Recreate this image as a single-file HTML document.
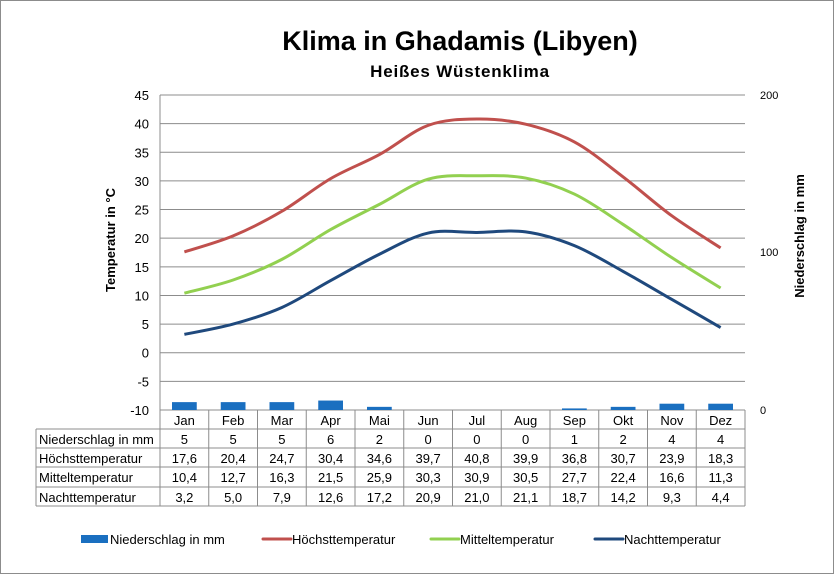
<!DOCTYPE html>
<html><head><meta charset="utf-8"><style>
html,body{margin:0;padding:0;background:#fff}
svg{display:block;font-family:"Liberation Sans",Arial,sans-serif}
</style></head><body>
<svg id="s" width="836" height="575" xmlns="http://www.w3.org/2000/svg">
<rect x="0.5" y="0.5" width="833" height="573" fill="#fff" stroke="#8c8c8c"/>
<text x="460" y="50" text-anchor="middle" font-size="27" font-weight="bold">Klima in Ghadamis (Libyen)</text>
<text x="460" y="77" text-anchor="middle" font-size="17" font-weight="bold" letter-spacing="0.8">Heißes Wüstenklima</text>
<text transform="translate(115,240) rotate(-90)" text-anchor="middle" font-size="13" font-weight="bold">Temperatur in °C</text>
<text transform="translate(804,236) rotate(-90)" text-anchor="middle" font-size="13" font-weight="bold">Niederschlag in mm</text>
<g id="g"></g>
</svg>
<script>
var g=document.getElementById('g'),h='';
var L=160,R=745,T=95,B=410,cw=(R-L)/12;
function ty(v){return B-(v+10)*(B-T)/55}
for(var v=-10;v<=45;v+=5){var y=ty(v);h+='<line x1="'+L+'" x2="'+R+'" y1="'+y+'" y2="'+y+'" stroke="#8c8c8c"/>';
h+='<text x="149" y="'+(y+5)+'" text-anchor="end" font-size="13">'+v+'</text>';}
h+='<line x1="'+L+'" x2="'+L+'" y1="'+T+'" y2="'+B+'" stroke="#8c8c8c"/>';
[[200,95],[100,252],[0,410]].forEach(function(a){h+='<text x="760" y="'+(a[1]+4)+'" font-size="11">'+a[0]+'</text>'});
var m=['Jan','Feb','Mar','Apr','Mai','Jun','Jul','Aug','Sep','Okt','Nov','Dez'];
var p=[5,5,5,6,2,0,0,0,1,2,4,4];
var hi=[17.6,20.4,24.7,30.4,34.6,39.7,40.8,39.9,36.8,30.7,23.9,18.3];
var mi=[10.4,12.7,16.3,21.5,25.9,30.3,30.9,30.5,27.7,22.4,16.6,11.3];
var lo=[3.2,5.0,7.9,12.6,17.2,20.9,21.0,21.1,18.7,14.2,9.3,4.4];
for(var i=0;i<12;i++){var hh=p[i]*(B-T)/200;if(hh>0)h+='<rect x="'+(L+i*cw+12)+'" y="'+(B-hh)+'" width="'+(cw-24)+'" height="'+hh+'" fill="#1a6fc0"/>';}
function path(d,c){var pts=d.map(function(v,i){return[L+(i+.5)*cw,ty(v)]});var s='M'+pts[0];
for(var i=0;i<11;i++){var p0=pts[Math.max(i-1,0)],p1=pts[i],p2=pts[i+1],p3=pts[Math.min(i+2,11)];
s+=' C'+(p1[0]+(p2[0]-p0[0])/6)+','+(p1[1]+(p2[1]-p0[1])/6)+' '+(p2[0]-(p3[0]-p1[0])/6)+','+(p2[1]-(p3[1]-p1[1])/6)+' '+p2;}
return '<path d="'+s+'" fill="none" stroke="'+c+'" stroke-width="3" stroke-linejoin="round"/>'}
h+=path(hi,'#c0504d')+path(mi,'#92d050')+path(lo,'#1f497d');
var rows=[410,429,448,467,487,506],lab=['Niederschlag in mm','Höchsttemperatur','Mitteltemperatur','Nachttemperatur'];
var data=[p,hi,mi,lo];
function f(v,i){return i==0?String(v):v.toFixed(1).replace('.',',')}
for(var r=1;r<rows.length;r++)h+='<line x1="36" x2="'+R+'" y1="'+rows[r]+'" y2="'+rows[r]+'" stroke="#8c8c8c"/>';
h+='<line x1="36" x2="36" y1="429" y2="506" stroke="#8c8c8c"/>';
for(var i=0;i<=12;i++){var x=L+i*cw;h+='<line x1="'+x+'" x2="'+x+'" y1="410" y2="506" stroke="#8c8c8c"/>';}
for(var i=0;i<12;i++){var cx=L+(i+.5)*cw;h+='<text x="'+cx+'" y="425" text-anchor="middle" font-size="13">'+m[i]+'</text>';
for(var r=0;r<4;r++)h+='<text x="'+cx+'" y="'+(rows[r+1]+15)+'" text-anchor="middle" font-size="13">'+f(data[r][i],r)+'</text>';}
for(var r=0;r<4;r++)h+='<text x="39" y="'+(rows[r+1]+15)+'" font-size="13">'+lab[r]+'</text>';
var lg=[[81,'#1a6fc0','Niederschlag in mm',1],[263,'#c0504d','Höchsttemperatur',0],[431,'#92d050','Mitteltemperatur',0],[595,'#1f497d','Nachttemperatur',0]];
lg.forEach(function(a){if(a[3])h+='<rect x="'+a[0]+'" y="535" width="27" height="8" fill="'+a[1]+'"/>';else h+='<line x1="'+a[0]+'" x2="'+(a[0]+28)+'" y1="539" y2="539" stroke="'+a[1]+'" stroke-width="3" stroke-linecap="round"/>';
h+='<text x="'+(a[0]+29)+'" y="544" font-size="13">'+a[2]+'</text>'});
g.innerHTML=h;
</script>
</body></html>
